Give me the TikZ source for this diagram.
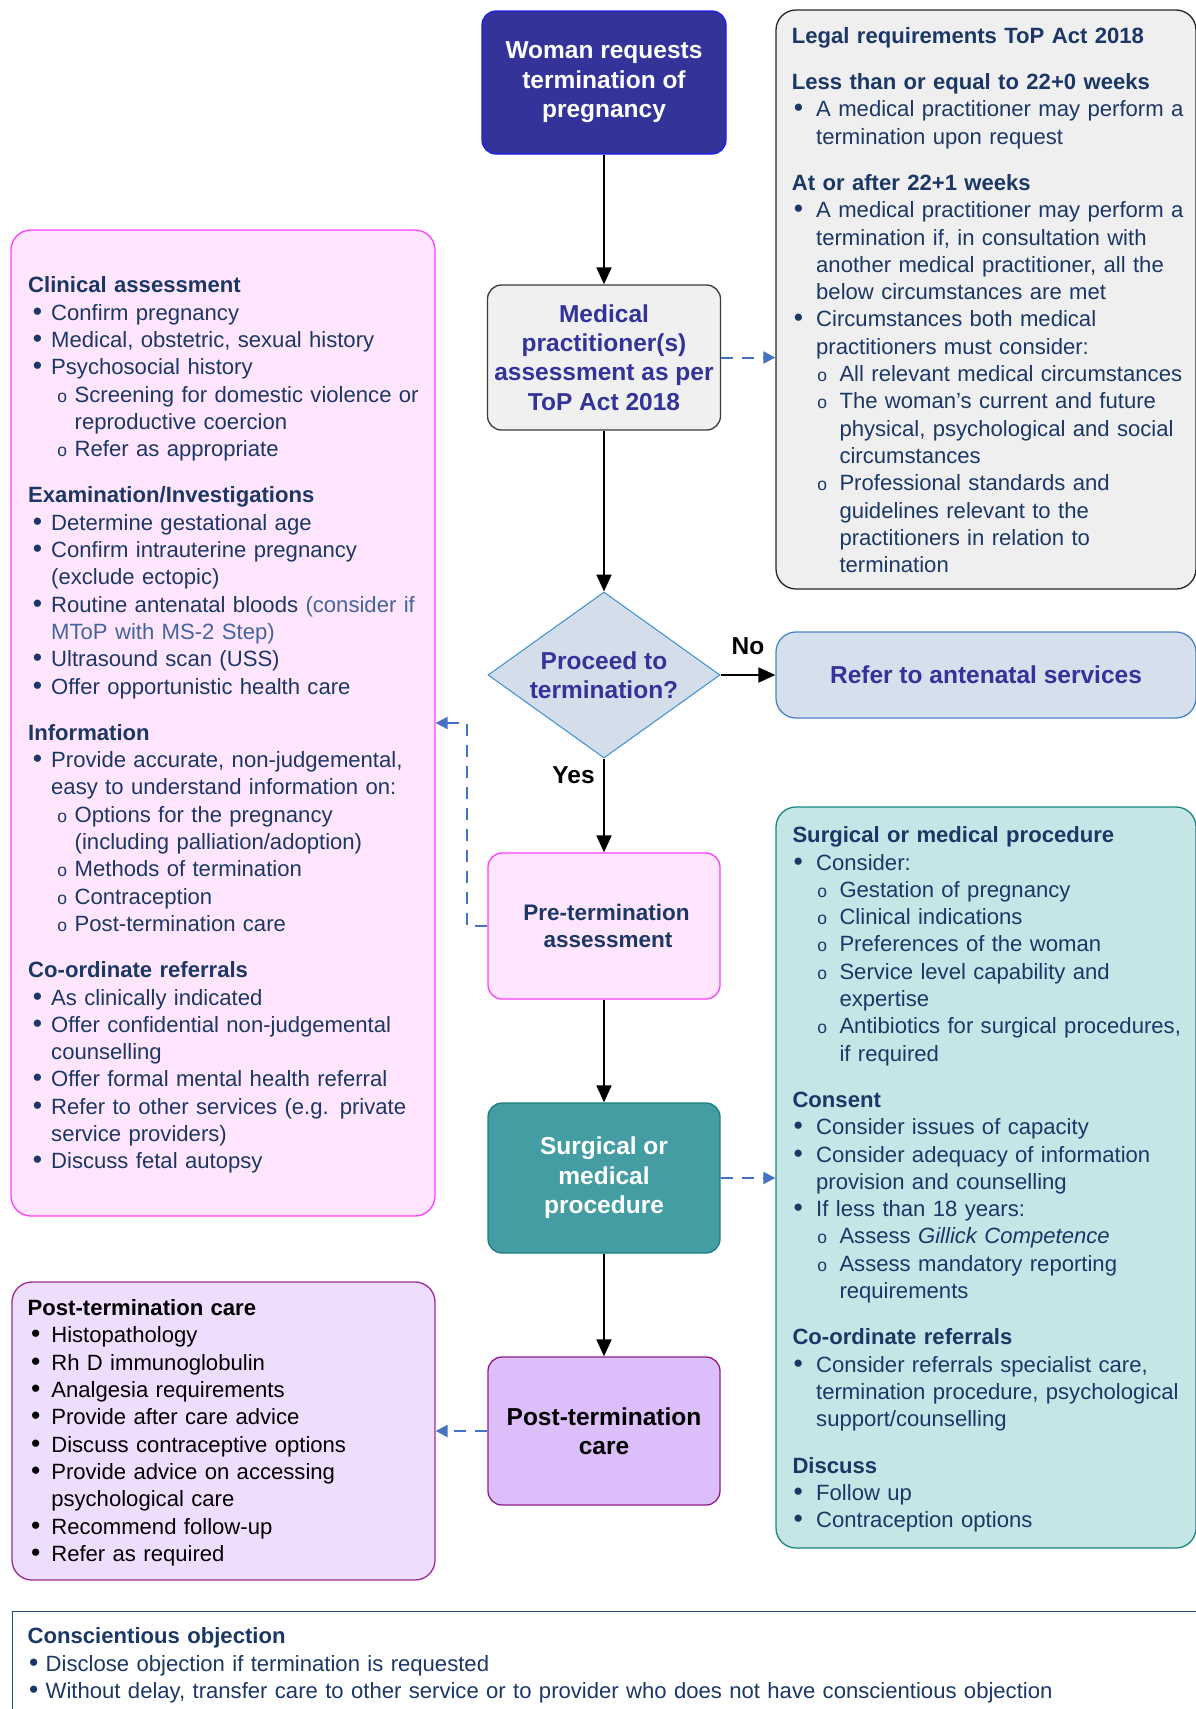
\documentclass[tikz,border=0pt]{standalone}
\usepackage{fontspec}
\setmainfont{Liberation Sans}
\usetikzlibrary{shapes.geometric,arrows.meta}
\definecolor{wfill}{HTML}{333399}
\definecolor{wdraw}{HTML}{1F1FEF}
\definecolor{indigo}{HTML}{333399}
\definecolor{navy}{HTML}{1B3766}
\definecolor{lite}{HTML}{44649C}
\definecolor{medfill}{HTML}{F0F0F0}
\definecolor{meddraw}{HTML}{3A3A3A}
\definecolor{diafill}{HTML}{D3DEEA}
\definecolor{diadraw}{HTML}{3C8ED2}
\definecolor{reffill}{HTML}{D6E0EC}
\definecolor{refdraw}{HTML}{4A84C4}
\definecolor{pinkfill}{HTML}{FFE5FD}
\definecolor{pinkdraw}{HTML}{FF3DFF}
\definecolor{legfill}{HTML}{EFEFEF}
\definecolor{legdraw}{HTML}{262626}
\definecolor{tealfill}{HTML}{C6E5E6}
\definecolor{tealdraw}{HTML}{17877F}
\definecolor{surgfill}{HTML}{439DA2}
\definecolor{surgdraw}{HTML}{1B7F80}
\definecolor{postfill}{HTML}{DCBEFA}
\definecolor{postdraw}{HTML}{8C1C8C}
\definecolor{plfill}{HTML}{EEDDFC}
\definecolor{pldraw}{HTML}{9A2C9A}
\definecolor{dashblue}{HTML}{4472C4}
\definecolor{consdraw}{HTML}{1F4E79}

\newcommand\FlowFont{\fontsize{24.5}{29.4}\selectfont\bfseries}
\newcommand\BodyFont{\fontsize{22.1}{27.3}\selectfont}
\newlength\Lbx \newlength\Ltx \newlength\Lsx \newlength\Lstx
\newcommand\SetInd[4]{\setlength\Lbx{#1pt}\setlength\Ltx{#2pt}\setlength\Lsx{#3pt}\setlength\Lstx{#4pt}}
\newcommand\LStrut{\rule{0pt}{18pt}}
\newcommand\SubO{{\fontsize{17.5}{17.5}\selectfont o}}
\newcommand\BulL{\scalebox{1.2}{\textbullet}}
\newcommand\HdL[1]{\par\noindent\LStrut\textbf{#1}}
\newcommand\BiL[1]{\par\noindent\LStrut\hspace*{\Lbx}\makebox[0pt]{\BulL}\hspace*{\dimexpr\Ltx-\Lbx\relax}#1}
\newcommand\CoL[1]{\par\noindent\LStrut\hspace*{\Ltx}#1}
\newcommand\SiL[1]{\par\noindent\LStrut\hspace*{\Lsx}\makebox[0pt]{\SubO}\hspace*{\dimexpr\Lstx-\Lsx\relax}#1}
\newcommand\ScL[1]{\par\noindent\LStrut\hspace*{\Lstx}#1}
\newcommand\GapL{\par\vspace{19pt}}

\tikzset{
  flow/.style={rectangle, rounded corners=14pt, line width=1.3pt, align=center, inner sep=0pt, font=\FlowFont},
  info/.style={rectangle, rounded corners=20pt, line width=1.3pt, inner sep=0pt},
  txt/.style={anchor=north west, inner sep=0pt, align=left, text width=#1, font=\BodyFont},
  arr/.style={line width=2pt, -{Triangle[length=17pt,width=15pt]}},
  darr/.style={line width=2pt, draw=dashblue, dash pattern=on 12pt off 9pt, -{Triangle[length=12pt,width=12pt]}},
  lab/.style={font=\FlowFont, inner sep=0pt}
}

\begin{document}
\begin{tikzpicture}[x=1pt,y=-1pt]
\useasboundingbox (0,0) rectangle (1196,1709);

% ---------- information boxes ----------
\node[info, fill=legfill, draw=legdraw, minimum width=420pt, minimum height=579pt] (legal) at (986,299.5) {};
\node[info, fill=pinkfill, draw=pinkdraw, minimum width=424pt, minimum height=986pt] (clin) at (223,723) {};
\node[info, fill=tealfill, draw=tealdraw, minimum width=420pt, minimum height=741pt] (teal) at (986,1177.5) {};
\node[info, fill=plfill, draw=pldraw, minimum width=423pt, minimum height=298pt] (postL) at (223.5,1431) {};
\node[rectangle, draw=consdraw, fill=white, line width=1.3pt, anchor=north west, minimum width=1203pt, minimum height=114pt, inner sep=0pt] (consc) at (12,1611) {};

% ---------- texts of information boxes ----------
\node[txt=430pt, text=navy] (legtxt) at (791.7,15.7) {\SetInd{6.6}{24.3}{30.3}{47.6}%
\HdL{Legal requirements ToP Act 2018}\GapL
\HdL{Less than or equal to 22+0 weeks}
\BiL{A medical practitioner may perform a}
\CoL{termination upon request}\GapL
\HdL{At or after 22+1 weeks}
\BiL{A medical practitioner may perform a}
\CoL{termination if, in consultation with}
\CoL{another medical practitioner, all the}
\CoL{below circumstances are met}
\BiL{Circumstances both medical}
\CoL{practitioners must consider:}
\SiL{All relevant medical circumstances}
\SiL{The woman’s current and future}
\ScL{physical, psychological and social}
\ScL{circumstances}
\SiL{Professional standards and}
\ScL{guidelines relevant to the}
\ScL{practitioners in relation to}
\ScL{termination}};

\node[txt=420pt, text=navy] (clintxt) at (28,265.3) {\SetInd{9.4}{23}{34}{46.5}%
\HdL{Clinical assessment}
\BiL{Confirm pregnancy}
\BiL{Medical, obstetric, sexual history}
\BiL{Psychosocial history}
\SiL{Screening for domestic violence or}
\ScL{reproductive coercion}
\SiL{Refer as appropriate}\GapL
\HdL{Examination/Investigations}
\BiL{Determine gestational age}
\BiL{Confirm intrauterine pregnancy}
\CoL{(exclude ectopic)}
\BiL{Routine antenatal bloods {\color{lite}(consider if}}
\CoL{{\color{lite}MToP with MS-2 Step)}}
\BiL{Ultrasound scan (USS)}
\BiL{Offer opportunistic health care}\GapL
\HdL{Information}
\BiL{Provide accurate, non-judgemental,}
\CoL{easy to understand information on:}
\SiL{Options for the pregnancy}
\ScL{(including palliation/adoption)}
\SiL{Methods of termination}
\SiL{Contraception}
\SiL{Post-termination care}\GapL
\HdL{Co-ordinate referrals}
\BiL{As clinically indicated}
\BiL{Offer confidential non-judgemental}
\CoL{counselling}
\BiL{Offer formal mental health referral}
\BiL{Refer to other services (e.g. private}
\CoL{service providers)}
\BiL{Discuss fetal autopsy}};

\node[txt=430pt, text=navy] (tealtxt) at (792.3,815.2) {\SetInd{5.8}{23.7}{29.7}{47}%
\HdL{Surgical or medical procedure}
\BiL{Consider:}
\SiL{Gestation of pregnancy}
\SiL{Clinical indications}
\SiL{Preferences of the woman}
\SiL{Service level capability and}
\ScL{expertise}
\SiL{Antibiotics for surgical procedures,}
\ScL{if required}\GapL
\HdL{Consent}
\BiL{Consider issues of capacity}
\BiL{Consider adequacy of information}
\CoL{provision and counselling}
\BiL{If less than 18 years:}
\SiL{Assess \textit{Gillick Competence}}
\SiL{Assess mandatory reporting}
\ScL{requirements}\GapL
\HdL{Co-ordinate referrals}
\BiL{Consider referrals specialist care,}
\CoL{termination procedure, psychological}
\CoL{support/counselling}\GapL
\HdL{Discuss}
\BiL{Follow up}
\BiL{Contraception options}};

\node[txt=420pt, text=black] (postLtxt) at (27.5,1288.1) {\SetInd{8}{23.6}{0}{0}%
\HdL{Post-termination care}
\BiL{Histopathology}
\BiL{Rh D immunoglobulin}
\BiL{Analgesia requirements}
\BiL{Provide after care advice}
\BiL{Discuss contraceptive options}
\BiL{Provide advice on accessing}
\CoL{psychological care}
\BiL{Recommend follow-up}
\BiL{Refer as required}};

\node[txt=1165pt, text=navy] (constxt) at (27.5,1616.3) {\SetInd{6}{18}{0}{0}%
\HdL{Conscientious objection}
\BiL{Disclose objection if termination is requested}
\BiL{Without delay, transfer care to other service or to provider who does not have conscientious objection}};

% ---------- flow nodes ----------
\node[flow, fill=wfill, draw=wdraw, text=white, minimum width=244pt, minimum height=143pt] (woman) at (604,82.5) {Woman requests\\termination of\\pregnancy};
\node[flow, fill=medfill, draw=meddraw, text=indigo, minimum width=233pt, minimum height=145pt] (med) at (604,357.5) {Medical\\practitioner(s)\\assessment as per\\ToP Act 2018};
\node[diamond, aspect=1.4, draw=diadraw, fill=diafill, line width=1pt, minimum width=232pt, minimum height=166pt, inner sep=0pt, align=center, font=\FlowFont, text=indigo] (diam) at (604,675) {Proceed to\\termination?};
\node[flow, rounded corners=20pt, fill=reffill, draw=refdraw, text=indigo, minimum width=420pt, minimum height=86pt] (refer) at (986,675) {Refer to antenatal services};
\node[flow, fill=pinkfill, draw=pinkdraw, text=navy, font=\fontsize{22.5}{27.3}\selectfont\bfseries, minimum width=232pt, minimum height=146pt] (pre) at (604,926) {\hspace*{5pt}Pre-termination\\\hspace*{8pt}assessment};
\node[flow, fill=surgfill, draw=surgdraw, text=white, minimum width=232pt, minimum height=150pt] (surg) at (604,1178) {Surgical or\\medical\\procedure};
\node[flow, fill=postfill, draw=postdraw, text=black, minimum width=232pt, minimum height=148pt] (post) at (604,1431) {Post-termination\\care};

% ---------- labels ----------
\node[lab] (yes) at (573.5,775) {Yes};
\node[lab] (no) at (748,646.5) {No};

% ---------- connectors ----------
\draw[arr] (woman) -- (med);
\draw[arr] (med) -- (diam);
\draw[arr] (diam) -- (refer);
\draw[arr] (diam) -- (pre);
\draw[arr] (pre) -- (surg);
\draw[arr] (surg) -- (post);

\coordinate (k1) at (467,723);
\draw[darr] (med.east) -- (med.east -| legal.west);
\draw[darr] (pre.west) -| (k1) -- (k1 -| clin.east);
\draw[darr] (surg.east) -- (surg.east -| teal.west);
\draw[darr] (post.west) -- (post.west -| postL.east);
\end{tikzpicture}
\end{document}
